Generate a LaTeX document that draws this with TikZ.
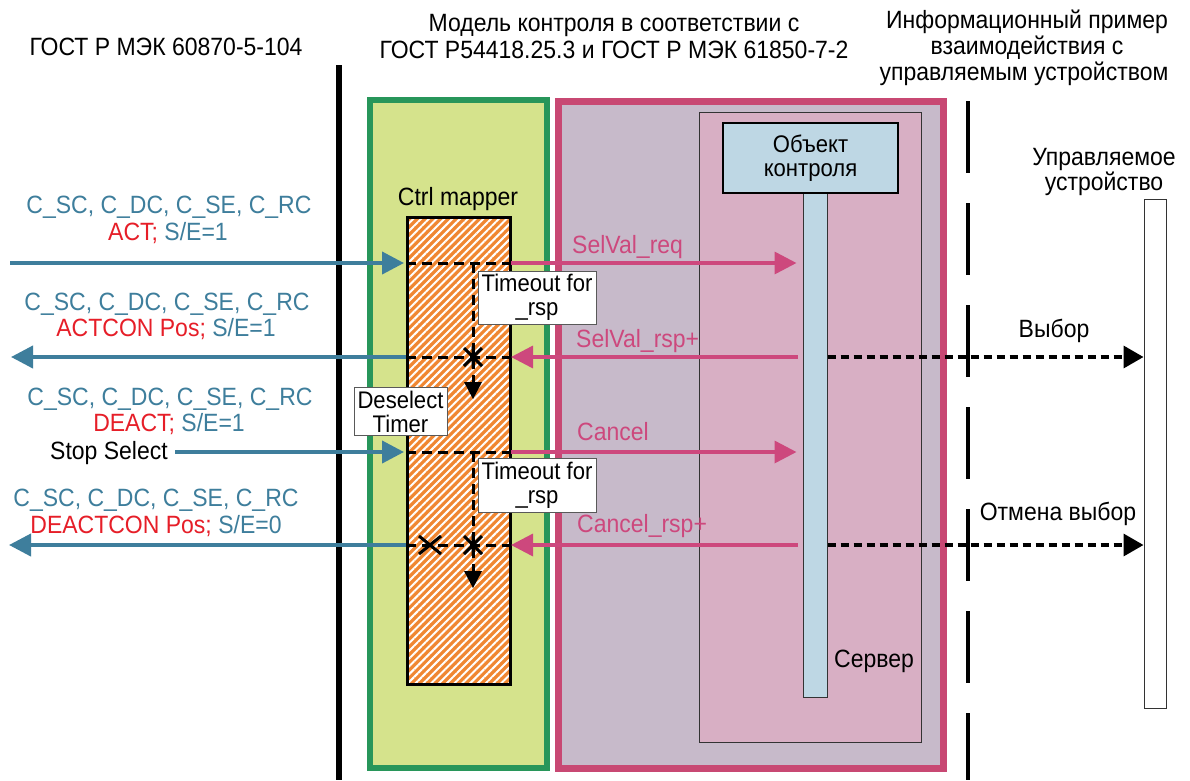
\documentclass[tikz,border=0pt]{standalone}
\usepackage{fontspec}
\setmainfont[FakeStretch=0.92]{Liberation Sans}
\usetikzlibrary{arrows.meta,patterns.meta}
\definecolor{tealB}{RGB}{62,126,156}
\definecolor{redT}{RGB}{230,30,40}
\definecolor{pinkA}{RGB}{205,72,125}
\definecolor{pinkB}{RGB}{200,72,115}
\definecolor{greenB}{RGB}{40,150,90}
\definecolor{greenF}{RGB}{213,227,140}
\definecolor{mauveF}{RGB}{199,186,202}
\definecolor{pinkF}{RGB}{216,175,196}
\definecolor{lblue}{RGB}{190,215,228}
\definecolor{orangeF}{RGB}{240,135,50}
\tikzset{
  barrow/.style={draw=tealB, line width=4pt, -{Triangle[length=22pt,width=22pt]}},
  parrow/.style={draw=pinkA, line width=3.5pt, -{Triangle[length=22pt,width=22pt]}},
  darrow/.style={draw=black, line width=3.5pt, dash pattern=on 8pt off 5pt, -{Triangle[length=20pt,width=22pt]}},
  mdash/.style={draw=black, line width=3pt, dash pattern=on 10pt off 6pt},
  mk/.style={draw=black, line width=3pt},
  tbox/.style={draw=gray!70!black, line width=0.8pt, fill=white, align=center, font=\fontsize{24}{24}\selectfont},
  lbl/.style={anchor=base},
  plbl/.style={anchor=base west, text=pinkA},
}
\begin{document}
\begin{tikzpicture}[x=1pt,y=-1pt, every node/.style={inner sep=0pt, font=\fontsize{25}{27}\selectfont}]
\useasboundingbox (0,0) rectangle (1190,780);
\fill[white] (0,0) rectangle (1190,780);

% row coordinates
\coordinate (y1) at (0,263);
\coordinate (y2) at (0,357);
\coordinate (y3) at (0,452);
\coordinate (y4) at (0,545);

% headers
\node[lbl] (h1) at (166,55) {ГОСТ Р МЭК 60870-5-104};
\node[lbl] (h2a) at (614,31) {Модель контроля в соответствии с};
\node[lbl] (h2b) at (614,58) {ГОСТ Р54418.25.3 и ГОСТ Р МЭК 61850-7-2};
\node[lbl] (h3a) at (1027,28) {Информационный пример};
\node[lbl] (h3b) at (1027,54) {взаимодействия с};
\node[lbl] (h3c) at (1024,80) {управляемым устройством};

% separators
\coordinate (bl1) at (339,65);
\coordinate (bl2) at (339,780);
\draw[line width=6pt] (bl1) -- (bl2);
\coordinate (vd1) at (968,101);
\coordinate (vd2) at (968,780);
\draw[line width=4pt, dash pattern=on 72pt off 30pt] (vd1) -- (vd2);

% boxes
\node[draw=greenB, line width=6pt, fill=greenF, minimum width=177pt, minimum height=668pt] (gbox) at (458.5,434) {};
\node[draw=pinkB, line width=7pt, fill=mauveF, minimum width=385pt, minimum height=667pt] (pbox) at (750.5,434.5) {};
\node[draw=black!80, line width=1pt, fill=pinkF, minimum width=222pt, minimum height=630pt] (srv) at (810,427) {};
\node[draw=black!80, line width=1pt, fill=lblue, minimum width=24pt, minimum height=504pt] (life) at (815,445) {};
\node[draw=black, line width=1.2pt, fill=lblue, minimum width=175pt, minimum height=70pt, align=center, font=\fontsize{24}{24}\selectfont] (obj) at (810.5,158) {Объект\\контроля};
\node[lbl] (srvl) at (874,667) {Сервер};

\node[lbl] (cm) at (458,205) {Ctrl mapper};
\node[draw=black, line width=3pt, preaction={fill=orangeF}, pattern={Lines[angle=45,distance=5.5pt,line width=2pt]}, pattern color=white, minimum width=103pt, minimum height=467pt] (map) at (458.5,450.5) {};

\node[draw=black!80, line width=1pt, fill=white, minimum width=22pt, minimum height=509pt] (dev) at (1155,453.5) {};
\node[lbl] (dv1) at (1104,165) {Управляемое};
\node[lbl] (dv2) at (1104,190) {устройство};

% dashed lines inside mapper
\draw[mdash] (map.west|-y1) -- (map.east|-y1);
\draw[mdash] (map.west|-y2) -- (map.east|-y2);
\draw[mdash] (map.west|-y3) -- (map.east|-y3);
\draw[mdash] (map.west|-y4) -- (map.east|-y4);
\coordinate (v1s) at (473,263);
\coordinate (t1) at (473,399);
\coordinate (v2s) at (473,452);
\coordinate (t2) at (473,588);
\draw[mdash] (v1s) -- (473,382);
\draw[mdash] (v2s) -- (473,571);
\fill (t1) -- +(-9,-17) -- +(9,-17) -- cycle;
\fill (t2) -- +(-9,-17) -- +(9,-17) -- cycle;
\coordinate (s1) at (473,357);
\coordinate (s2) at (473,545);
\coordinate (x1) at (430,545);
\draw[mk] (s1) +(-9,-9) -- +(9,9) (s1) +(-9,9) -- +(9,-9) (s1) +(0,-11) -- +(0,11);
\draw[mk] (s2) +(-9,-9) -- +(9,9) (s2) +(-9,9) -- +(9,-9) (s2) +(0,-11) -- +(0,11);
\draw[mk] (x1) +(-11,-9) -- +(11,9) (x1) +(-11,9) -- +(11,-9);

% text boxes
\node[tbox, minimum width=118pt, minimum height=53pt] (to1) at (537,297.5) {Timeout for\\\_rsp};
\node[tbox, minimum width=118pt, minimum height=54pt] (to2) at (537,485) {Timeout for\\\_rsp};
\node[tbox, minimum width=93pt, minimum height=48pt] (ds) at (400.5,411.5) {Deselect\\Timer};

% left labels
\node[lbl, text=tealB] (l1a) at (169,213) {C\_SC, C\_DC, C\_SE, C\_RC};
\node[lbl, text=tealB] (l1b) at (168,240) {{\color{redT}ACT;} S/E=1};
\node[lbl, text=tealB] (l2a) at (167,310) {C\_SC, C\_DC, C\_SE, C\_RC};
\node[lbl, text=tealB] (l2b) at (166,336) {{\color{redT}ACTCON Pos;} S/E=1};
\node[lbl, text=tealB] (l3a) at (170,405) {C\_SC, C\_DC, C\_SE, C\_RC};
\node[lbl, text=tealB] (l3b) at (169,431) {{\color{redT}DEACT;} S/E=1};
\node[lbl] (stop) at (109,459) {Stop Select};
\node[lbl, text=tealB] (l4a) at (156,506) {C\_SC, C\_DC, C\_SE, C\_RC};
\node[lbl, text=tealB] (l4b) at (156,533) {{\color{redT}DEACTCON Pos;} S/E=0};

% blue arrows
\coordinate (b1) at (10,263);
\coordinate (b2) at (11,357);
\coordinate (b4) at (9,545);
\draw[barrow, shorten >=2pt] (b1) -- (map.west|-y1);
\draw[barrow] (map.west|-y2) -- (b2);
\draw[barrow, shorten <=7pt, shorten >=2pt] (stop.east|-y3) -- (map.west|-y3);
\draw[barrow] (map.west|-y4) -- (b4);

% pink arrows
\draw[parrow, shorten >=6pt] (map.east|-y1) -- (life.west|-y1);
\draw[parrow, shorten <=5pt] (life.west|-y2) -- (map.east|-y2);
\draw[parrow, shorten >=6pt] (map.east|-y3) -- (life.west|-y3);
\draw[parrow, shorten <=5pt] (life.west|-y4) -- (map.east|-y4);
\node[plbl] (pl1) at (572,253) {SelVal\_req};
\node[plbl] (pl2) at (576,347) {SelVal\_rsp+};
\node[plbl] (pl3) at (577,440) {Cancel};
\node[plbl] (pl4) at (577,532) {Cancel\_rsp+};

% device arrows
\draw[darrow] (life.east|-y2) -- (dev.west|-y2);
\draw[darrow] (life.east|-y4) -- (dev.west|-y4);
\node[lbl] (vb) at (1054,337) {Выбор};
\node[lbl] (ov) at (1058,520) {Отмена выбор};
\end{tikzpicture}
\end{document}
